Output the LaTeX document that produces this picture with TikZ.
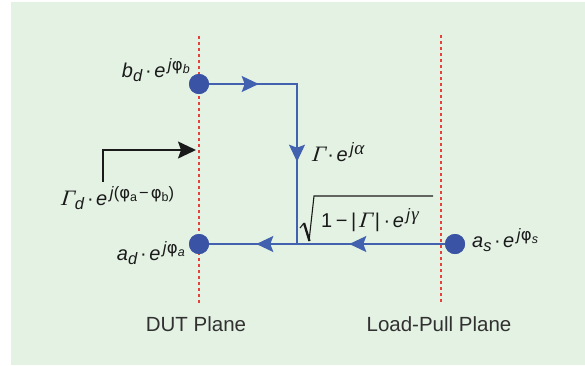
\documentclass[tikz,border=0pt]{standalone}
\usepackage{fontspec}
\setmainfont{Liberation Sans}
\newfontfamily\grf{Liberation Serif}
\newfontfamily\grs{Liberation Serif}[FakeSlant=0.3]
\newfontfamily\phf{DejaVu Sans}
\usetikzlibrary{arrows.meta,decorations.markings}
\definecolor{bg}{HTML}{E4F2E4}
\definecolor{lnblue}{HTML}{4262B0}
\definecolor{dotblue}{HTML}{3A53A4}
\definecolor{pred}{HTML}{E8403A}
\definecolor{blk}{HTML}{1A1A1A}
\newcommand\lsub[1]{\raisebox{-4.5pt}{\fontsize{16.5}{16.5}\selectfont #1}}
\newcommand\lsup[1]{\kern2.5pt\raisebox{6.5pt}{\fontsize{16.5}{16.5}\selectfont #1}}
\newcommand\ssub[1]{\raisebox{-3pt}{\fontsize{12.5}{12.5}\selectfont #1}}
\newcommand\gi[1]{{\grf\itshape\fontsize{19}{19}\selectfont #1}}
\newcommand\ph{{\phf φ}}
\newcommand\GG{{\grs\fontsize{22}{22}\selectfont Γ}\kern1pt}
\newcommand\cdt{\kern2.5pt·\kern2.5pt}
\tikzset{
  bl/.style={draw=lnblue, line width=1.4pt},
  dotn/.style={circle, fill=dotblue, minimum size=20pt, inner sep=0pt},
  plane/.style={draw=pred, line width=1.2pt, dash pattern=on 3pt off 3pt},
  lbl/.style={inner sep=0pt, font=\fontsize{20}{22}\selectfont, text=blk},
  plbl/.style={inner sep=0pt, font=\fontsize{20.5}{24}\selectfont, text=blk!90},
  btip/.tip={Stealth[length=17pt,width=16pt,inset=3pt]},
}
\begin{document}
\begin{tikzpicture}[x=1pt,y=-1pt]
\useasboundingbox (0,0) rectangle (585,365);
\fill[bg] (11,2) rectangle (585,365);
% planes
\coordinate (dutT) at (199,36);
\coordinate (dutB) at (199,304);
\coordinate (lpT) at (441,35);
\coordinate (lpB) at (441,303);
\draw[plane] (dutT) -- (dutB);
\draw[plane] (lpT) -- (lpB);
% nodes
\node[dotn] (bd) at (199,84) {};
\node[dotn] (ad) at (199,244) {};
\node[dotn] (as) at (455,244) {};
\coordinate (c1) at (297,84);
\coordinate (c2) at (297,243);
% blue connectors
\draw[bl, postaction={decorate}, decoration={markings,
  mark=at position 49.5pt with {\arrow[lnblue]{btip}},
  mark=at position 165.5pt with {\arrow[lnblue]{btip}}}] (bd) -- (c1) -- (c2);
\draw[bl, postaction={decorate}, decoration={markings,
  mark=at position 95.5pt with {\arrow[lnblue]{btip}},
  mark=at position 188.5pt with {\arrow[lnblue]{btip}}}] (as) -- (ad);
\node[dotn] at (bd) {};
\node[dotn] at (ad) {};
\node[dotn] at (as) {};
% black arrow
\coordinate (k0) at (103,182);
\coordinate (k1) at (196,150);
\draw[blk, line width=1.5pt, -{Stealth[length=18pt,width=17pt,inset=3pt]}] (k0) |- (k1);
% labels
\node[lbl, anchor=base east] (lbd) at (190,77) {\textit{b}\lsub{\textit{d}}\cdt\textit{e}\lsup{\textit{j}\ph\ssub{\textit{b}}}};
\node[lbl, anchor=base east] (lad) at (185,260) {\textit{a}\lsub{\textit{d}}\cdt\textit{e}\lsup{\textit{j}\ph\ssub{\textit{a}}}};
\node[lbl, anchor=base west] (las) at (472,247) {\textit{a}\lsub{\textit{s}}\cdt\textit{e}\lsup{\textit{j}\ph\ssub{\textit{s}}}};
\node[lbl, anchor=base west] (lg) at (311,161) {\GG\cdt\textit{e}\lsup{\textit{j}\gi{α}}};
\node[lbl, anchor=base west] (lgd) at (60,205) {\GG\kern1pt\lsub{\textit{d}}\cdt\textit{e}\lsup{\textit{j}(\ph\ssub{a}\kern2pt−\kern2pt\ph\ssub{b})}};
\node[lbl, anchor=base west] (lsq) at (321,227) {1\kern3.5pt−\kern3.5pt|\kern2pt\GG\kern3pt|\kern1pt\cdt\textit{e}\lsup{\textit{j}\kern1pt\gi{γ}}};
\draw[blk, line width=1.1pt] (300,228) -- (304,223);
\draw[blk, line width=2.3pt] (304,223) -- (309.5,241);
\draw[blk, line width=1.1pt, line join=miter] (309,241) -- (314,196) -- (433,196);
\node[plbl, anchor=base] (ldut) at (196,331) {DUT Plane};
\node[plbl, anchor=base] (llp) at (439,331) {Load-Pull Plane};
\end{tikzpicture}
\end{document}
